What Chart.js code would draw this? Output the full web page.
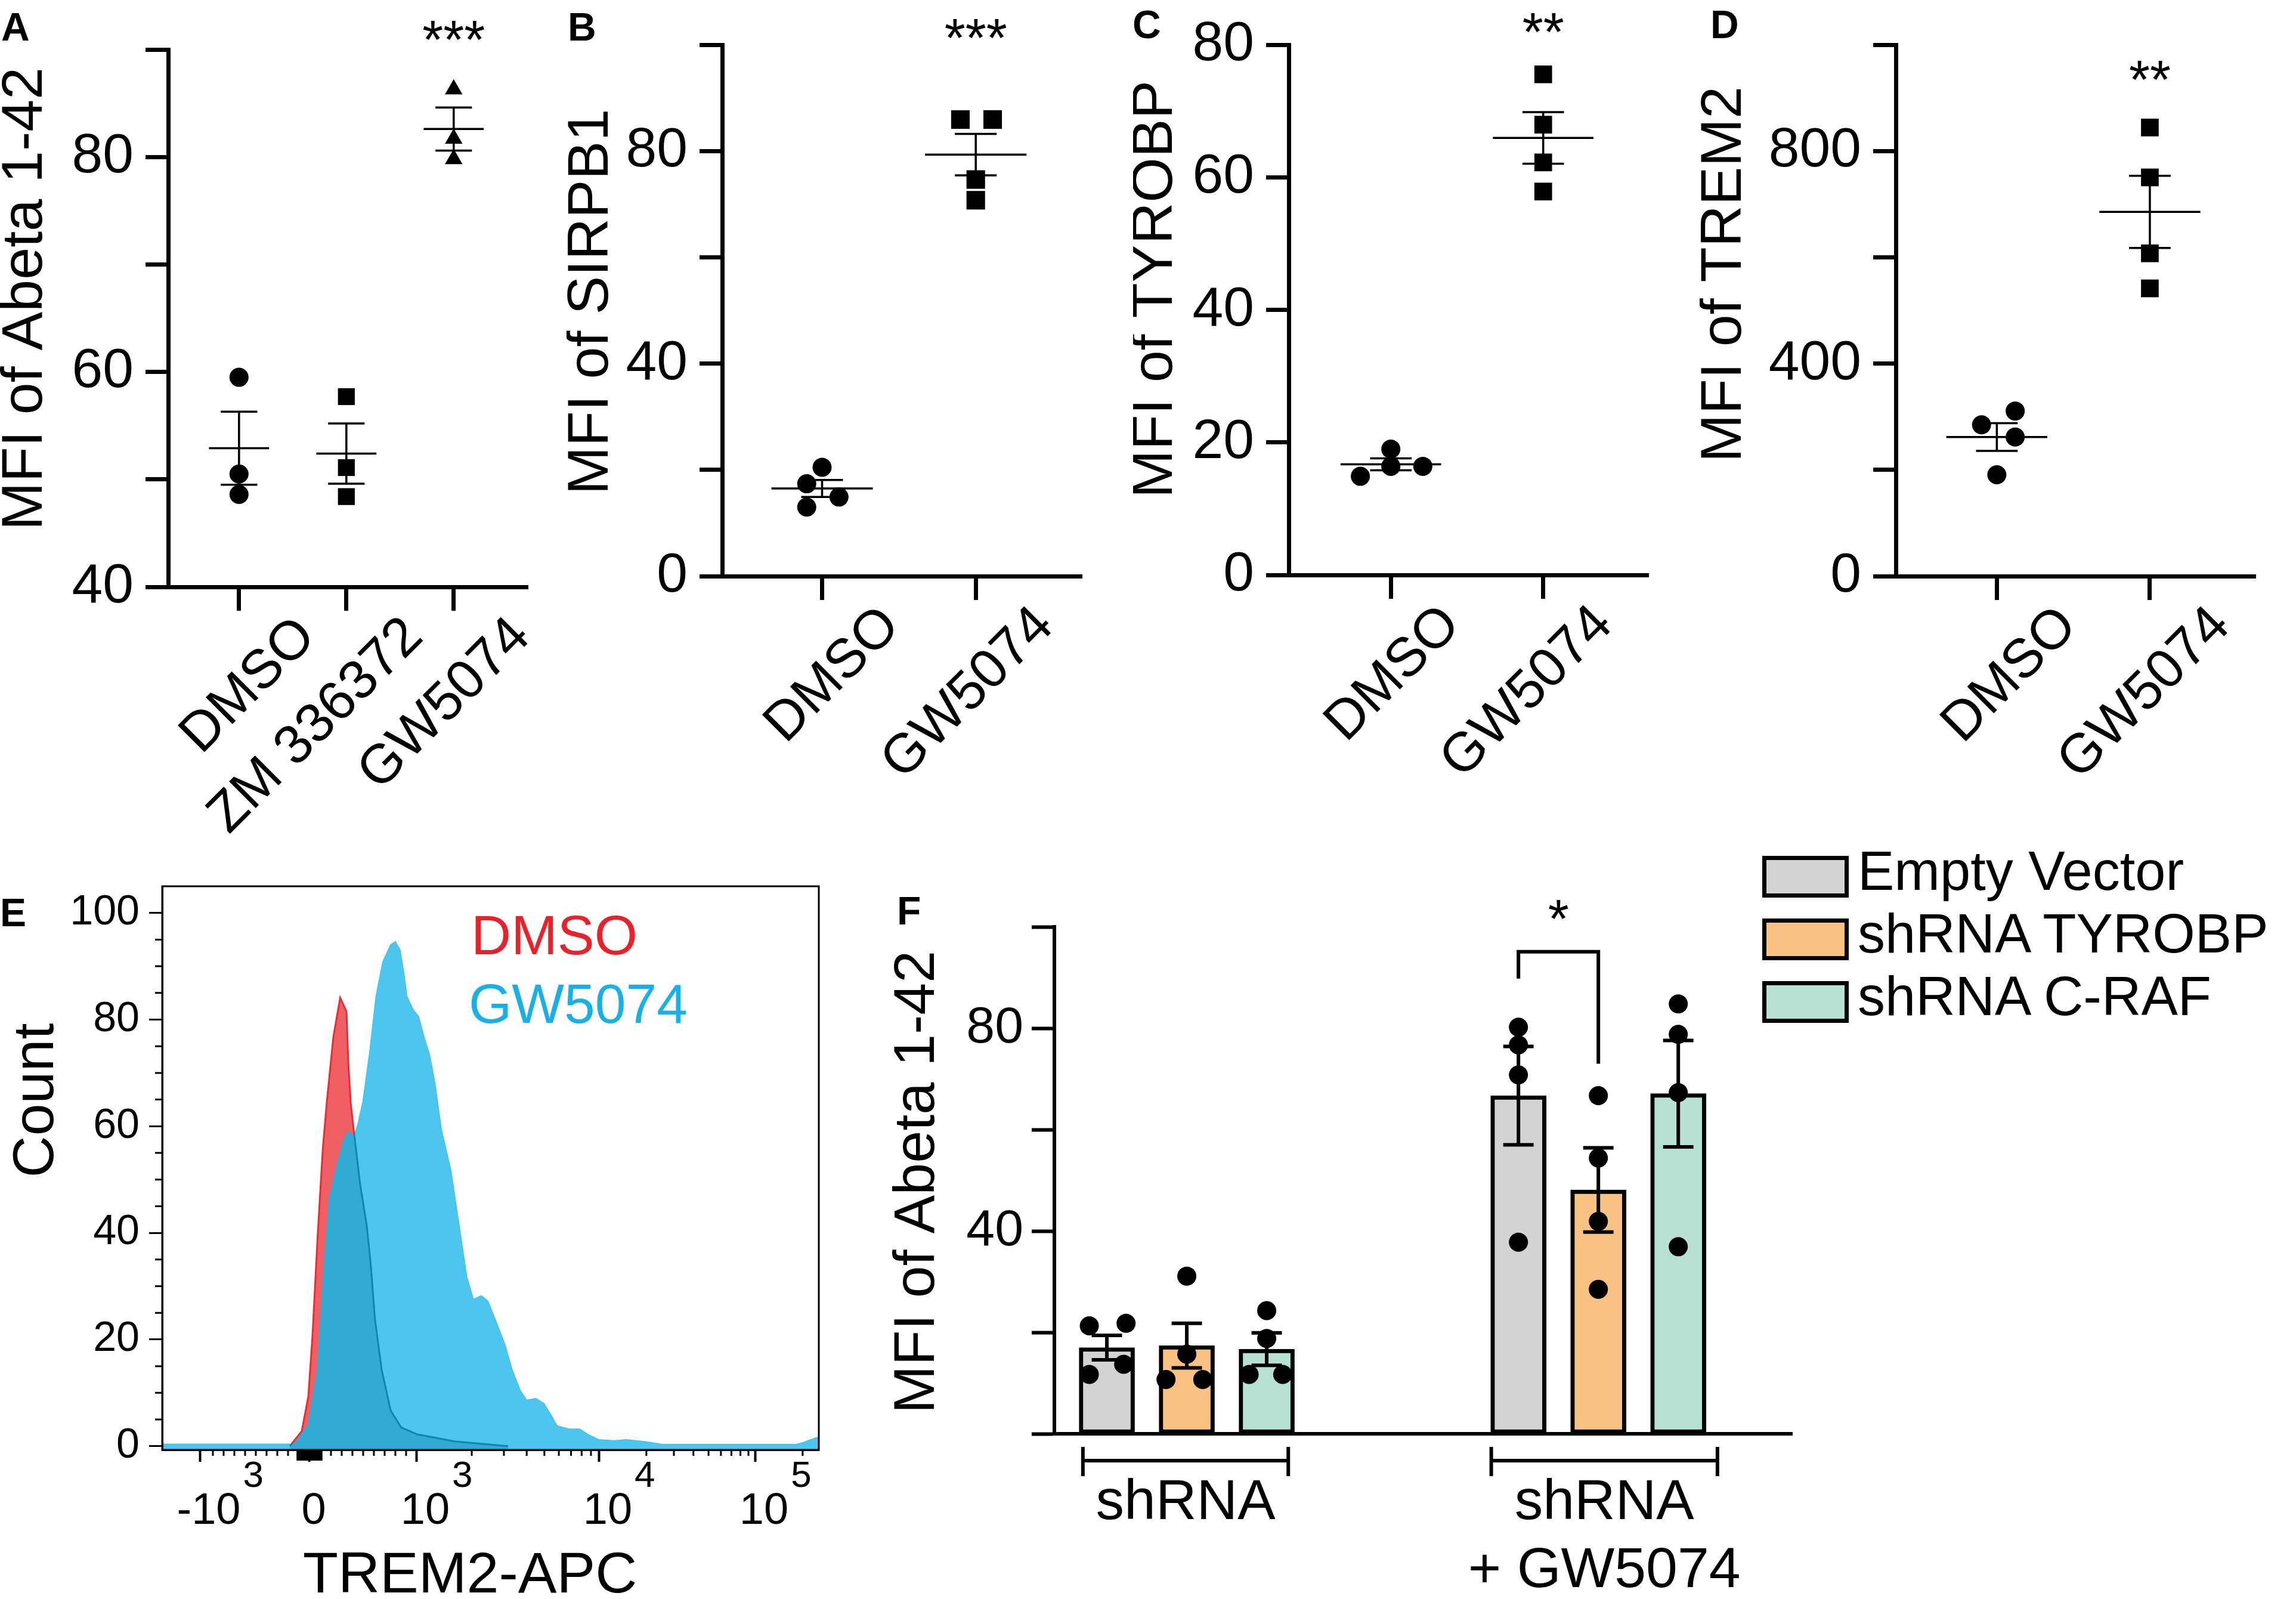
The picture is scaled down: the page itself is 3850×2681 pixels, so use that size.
<!DOCTYPE html>
<html>
<head>
<meta charset="utf-8">
<title>GW5074 / TREM2 figure</title>
<script src="https://cdn.jsdelivr.net/npm/chart.js@4.4.1/dist/chart.umd.min.js"></script>
<style>
  html, body { margin: 0; padding: 0; background: #fff; }
  body { position: relative; width: 3850px; height: 2681px; overflow: hidden;
         font-family: 'Liberation Sans', Arial, Helvetica, sans-serif; }
  canvas { position: absolute; }
  .letter { position: absolute; font-weight: bold; font-size: 66px; line-height: 66px; }
  .legend-row { position: absolute; left: 2955px; width: 900px; height: 70px; }
  .legend-box { position: absolute; left: 0; top: 0; width: 131px; height: 56px; border: 7px solid #000; }
  .legend-text { position: absolute; left: 160px; top: -21px; font-size: 92px; line-height: 92px; white-space: nowrap; }
</style>
</head>
<body>
<canvas id="chartA" width="950" height="1400" style="left:0;top:0"></canvas>
<canvas id="chartB" width="950" height="1400" style="left:950px;top:0"></canvas>
<canvas id="chartC" width="950" height="1400" style="left:1900px;top:0"></canvas>
<canvas id="chartD" width="1000" height="1400" style="left:2850px;top:0"></canvas>
<canvas id="chartE" width="1420" height="1281" style="left:0;top:1400px"></canvas>
<canvas id="chartF" width="1700" height="1331" style="left:1400px;top:1350px"></canvas>
<div class="letter" style="left:2px;top:12px">A</div>
<div class="letter" style="left:952px;top:12px">B</div>
<div class="letter" style="left:1899px;top:8px">C</div>
<div class="letter" style="left:2868px;top:8px">D</div>
<div class="letter" style="left:0px;top:1497px">E</div>
<div class="letter" style="left:1504px;top:1494px">F</div>
<div id="legendF"></div>
<script>
Chart.defaults.font.family = "'Liberation Sans', Arial, Helvetica, sans-serif";
Chart.defaults.color = '#000';

// ---------- Panel A : MFI of Abeta 1-42 ----------
const aCategories = ['DMSO', 'ZM 336372', 'GW5074'];
const aDMSO = [59.5, 50.5, 48.6];
const aZM = [57.7, 51.1, 48.4];
const aGW = [86.3, 81.7, 79.8];
const aMeans = [52.9, 52.4, 82.6];
const aSEMs = [3.4, 2.8, 2.0];
const aTicks = [40, 50, 60, 70, 80, 90];
const aStars = ['', '', '***'];

// ---------- Panel B : MFI of SIRPB1 ----------
const bCategories = ['DMSO', 'GW5074'];
const bDMSO = [20.5, 17.4, 14.9, 13.0];
const bDMSOJitter = [0, -0.1, 0.11, -0.1];
const bGW = [86.0, 86.0, 74.7, 70.8];
const bGWJitter = [-0.1, 0.11, 0, 0];
const bMeans = [16.5, 79.4];
const bSEMs = [1.6, 3.9];
const bTicks = [0, 20, 40, 60, 80, 100];
const bStars = ['', '***'];

// ---------- Panel C : MFI of TYROBP ----------
const cCategories = ['DMSO', 'GW5074'];
const cDMSO = [14.9, 19.0, 16.4, 16.4];
const cDMSOJitter = [-0.2, 0, 0, 0.21];
const cGW = [75.6, 68.0, 62.3, 57.9];
const cMeans = [16.7, 66.0];
const cSEMs = [0.9, 3.9];
const cTicks = [0, 20, 40, 60, 80];
const cStars = ['', '**'];

// ---------- Panel D : MFI of TREM2 ----------
const dCategories = ['DMSO', 'GW5074'];
const dDMSO = [285, 311, 262, 191];
const dDMSOJitter = [-0.1, 0.12, 0.12, 0];
const dGW = [845, 751, 608, 542];
const dMeans = [262, 686];
const dSEMs = [26, 68];
const dTicks = [0, 200, 400, 600, 800, 1000];
const dStars = ['', '**'];

// ---------- Panel E : TREM2-APC histogram (x in display channels) ----------
const eGWChannel = [0, 200, 207, 227.9, 242.4, 252.7, 261, 273.4, 283.7, 290.2,
  298.5, 304.6, 313, 323.3, 333.7, 344.1, 356.2, 363.6, 371, 377.3,
  381.3, 391.5, 399.9, 408.3, 416.6, 425, 435.2, 450.1, 462.2, 474.8,
  485.2, 497.6, 507.8, 522.7, 534.8, 545.4, 558, 568.2, 582.8, 595.2,
  605.4, 615.7, 634.3, 651, 663.7, 680.4, 704.9, 723.5, 754.2, 779.9,
  988.6, 997.9, 1011.8, 1024];
const eGWCount = [0.35, 0.35, 0.5, 4, 14.4, 33.7, 46.5, 53, 57.4, 59,
  58, 60, 64.5, 73.5, 84.4, 90.8, 94, 94.6, 93, 88.3,
  84.4, 81.8, 80.5, 76.7, 73.5, 68.3, 59.4, 51.7, 42, 31.8,
  27.5, 28.2, 27.2, 22.7, 18.9, 14.4, 10.5, 8.6, 8.9, 8,
  6, 3.8, 3.2, 3.2, 2.2, 1.2, 1.0, 1.2, 0.8, 0.3,
  0.3, 0.6, 1.2, 1.7];
const eDMSOChannel = [199, 217.6, 227.9, 234.4, 242.7, 250.6, 256.7, 266.9, 277.6, 287.4,
  290.2, 293.9, 298.5, 308.8, 319, 325.5, 331.6, 342.2, 356.2, 372.9, 398, 456.2, 539.4];
const eDMSOCount = [0, 2.8, 9.3, 20.8, 40, 56, 64.5, 76.7, 84.1, 81.5,
  72, 64.5, 59.4, 49, 41.4, 33.7, 24, 14.4, 6.7, 3.5, 2.2, 0.9, 0];
// decade ticks: -10^3, 0, 10^3, 10^4, 10^5
const eTickChannels = [59.5, 229.7, 397.1, 681.7, 925.4];
const eTickBase = ['-10', '0', '10', '10', '10'];
const eTickExp = ['3', '', '3', '4', '5'];
const eYTicks = [0, 20, 40, 60, 80, 100];

// ---------- Panel F : MFI of Abeta 1-42, shRNA ----------
const fSeries = ['Empty Vector', 'shRNA TYROBP', 'shRNA C-RAF'];
const fGroups = ['shRNA', ['shRNA', '+ GW5074']];
const fColors = ['#d3d3d3', '#f9c182', '#b7e1d3'];
const fMeans = [[17.0, 66.7], [17.4, 48.1], [16.7, 67.1]];
const fSEMs = [[2.4, 9.7], [4.4, 8.3], [3.2, 10.5]];
const fEmptyPts = [[21.3, 21.8, 11.7, 13.7], [80.2, 76.7, 70.8, 37.8]];
const fTyrobpPts = [[31.1, 15.7, 10.7, 10.7], [66.7, 54.4, 41.9, 28.5]];
const fCrafPts = [[24.3, 18.8, 11.7, 11.7], [84.8, 78.8, 67.3, 36.9]];
const fEmptyJitter = [[-0.22, 0.24, -0.22, 0.21], [0, 0, 0, 0]];
const fTyrobpJitter = [[0, 0, -0.26, 0.2], [0, 0, 0, 0]];
const fCrafJitter = [[0, 0, -0.22, 0.2], [0, 0, 0, 0]];
const fYTicks = [0, 20, 40, 60, 80, 100];

// ---------- layout helpers ----------
const FONT = "'Liberation Sans', Arial, Helvetica, sans-serif";
const NARROW = "'Liberation Sans Narrow', 'Arial Narrow', " + FONT;

function textPlugin(items) {
  return {
    id: 'panelText',
    afterDraw(chart) {
      const ctx = chart.ctx;
      items.forEach(t => {
        ctx.save();
        ctx.translate(t.x, t.y);
        if (t.rotate) ctx.rotate(t.rotate * Math.PI / 180);
        ctx.font = (t.size || 97) + 'px ' + FONT;
        ctx.fillStyle = t.color || '#000';
        ctx.textAlign = t.align || 'center';
        ctx.textBaseline = t.baseline || 'middle';
        ctx.fillText(t.text, 0, 0);
        ctx.restore();
      });
    }
  };
}

// mean line + SEM whiskers, positioned through the chart scales
function meanSemPlugin(xs, means, sems, meanHalf, capHalf, lw) {
  return {
    id: 'meanSem',
    afterDatasetsDraw(chart) {
      const { ctx, scales: { x, y } } = chart;
      ctx.save();
      ctx.strokeStyle = '#000';
      ctx.lineWidth = lw;
      means.forEach((m, i) => {
        const cx = x.getPixelForValue(xs[i]);
        const half = x.getPixelForValue(xs[i] + meanHalf) - cx;
        const cap = x.getPixelForValue(xs[i] + capHalf) - cx;
        const ym = y.getPixelForValue(m);
        const yh = y.getPixelForValue(m + sems[i]);
        const yl = y.getPixelForValue(m - sems[i]);
        ctx.beginPath();
        if (meanHalf > 0) { ctx.moveTo(cx - half, ym); ctx.lineTo(cx + half, ym); }
        ctx.moveTo(cx, yh); ctx.lineTo(cx, yl);
        ctx.moveTo(cx - cap, yh); ctx.lineTo(cx + cap, yh);
        ctx.moveTo(cx - cap, yl); ctx.lineTo(cx + cap, yl);
        ctx.stroke();
      });
      ctx.restore();
    }
  };
}

function starsPlugin(stars, starY, size) {
  return {
    id: 'stars',
    afterDraw(chart) {
      const { ctx, scales: { x, y } } = chart;
      ctx.save();
      ctx.font = size + 'px ' + FONT;
      ctx.textAlign = 'center';
      ctx.textBaseline = 'middle';
      ctx.fillStyle = '#000';
      stars.forEach((s, i) => {
        if (s) ctx.fillText(s, x.getPixelForValue(i + 1), y.getPixelForValue(starY) + 0.23 * size);
      });
      ctx.restore();
    }
  };
}

function valueAxis(ticks, labelFn, width, tickLen, pad, fontSize, lw) {
  return {
    type: 'linear',
    min: ticks[0],
    max: ticks[ticks.length - 1],
    afterBuildTicks: s => { s.ticks = ticks.map(v => ({ value: v })); },
    afterFit: s => { s.width = width; },
    ticks: { callback: v => labelFn(v), font: { size: fontSize }, padding: pad, color: '#000' },
    grid: { drawOnChartArea: false, drawTicks: true, tickLength: tickLen, tickWidth: lw, tickColor: '#000' },
    border: { display: true, width: lw, color: '#000' }
  };
}

function categoryAxis(labels, min, max, height, labelOffset) {
  return {
    type: 'linear',
    min: min,
    max: max,
    offset: false,
    afterBuildTicks: s => { s.ticks = labels.map((_, i) => ({ value: i + 1 })); },
    afterFit: s => { s.height = height; },
    ticks: {
      callback: (v, i) => labels[i],
      font: { size: 92 }, color: '#000',
      minRotation: 45, maxRotation: 45, autoSkip: false,
      padding: -10, labelOffset: labelOffset
    },
    grid: { drawOnChartArea: false, drawTicks: true, tickLength: 40, tickWidth: 7, tickColor: '#000' },
    border: { display: true, width: 7, color: '#000' }
  };
}

function scatterPanel(id, p) {
  const datasets = p.groups.map((g, i) => ({
    data: g.values.map((v, j) => ({ x: i + 1 + (g.jitter ? g.jitter[j] : 0), y: v })),
    pointStyle: g.style,
    pointRadius: g.radius,
    pointHoverRadius: g.radius,
    backgroundColor: '#000',
    borderColor: '#000',
    borderWidth: 0,
    clip: false
  }));
  const xs = p.categories.map((_, i) => i + 1);
  return new Chart(document.getElementById(id), {
    type: 'scatter',
    data: { datasets },
    options: {
      responsive: false,
      animation: false,
      devicePixelRatio: 1,
      layout: { padding: { top: p.top, right: p.right, left: 0, bottom: 0 } },
      plugins: { legend: { display: false }, tooltip: { enabled: false } },
      scales: {
        x: categoryAxis(p.categories, p.xMin, p.xMax, p.xHeight, p.labelOffset),
        y: valueAxis(p.yTicks, v => (v % p.labelEvery === 0 ? String(v) : ''), p.yWidth, 38, 20, 93, 7)
      }
    },
    plugins: [
      meanSemPlugin(xs, p.means, p.sems, p.meanHalf, p.capHalf, 3.5),
      starsPlugin(p.stars, p.starY, 90),
      textPlugin([{ text: p.title, x: p.titleX, y: p.titleY, rotate: -90, size: 97 }])
    ]
  });
}

// ---------- A–D ----------
scatterPanel('chartA', {
  categories: aCategories,
  groups: [
    { values: aDMSO, style: 'circle', radius: 16 },
    { values: aZM, style: 'rect', radius: 20 },
    { values: aGW, style: 'triangle', radius: 17 }
  ],
  means: aMeans, sems: aSEMs, stars: aStars, starY: 91.7,
  yTicks: aTicks, labelEvery: 20,
  xMin: 0.34, xMax: 3.69, top: 83, right: 65, yWidth: 282, xHeight: 416,
  meanHalf: 0.28, capHalf: 0.17, labelOffset: 114,
  title: 'MFI of Abeta 1-42', titleX: 43, titleY: 501
});

scatterPanel('chartB', {
  categories: bCategories,
  groups: [
    { values: bDMSO, jitter: bDMSOJitter, style: 'circle', radius: 16 },
    { values: bGW, jitter: bGWJitter, style: 'rect', radius: 22 }
  ],
  means: bMeans, sems: bSEMs, stars: bStars, starY: 103,
  yTicks: bTicks, labelEvery: 40,
  xMin: 0.35, xMax: 2.69, top: 70, right: 86, yWidth: 261, xHeight: 434,
  meanHalf: 0.33, capHalf: 0.136, labelOffset: 116,
  title: 'MFI of SIRPB1', titleX: 42, titleY: 506
});

scatterPanel('chartC', {
  categories: cCategories,
  groups: [
    { values: cDMSO, jitter: cDMSOJitter, style: 'circle', radius: 16 },
    { values: cGW, style: 'rect', radius: 21 }
  ],
  means: cMeans, sems: cSEMs, stars: cStars, starY: 83.3,
  yTicks: cTicks, labelEvery: 20,
  xMin: 0.33, xMax: 2.69, top: 65, right: 86, yWidth: 261, xHeight: 436,
  meanHalf: 0.33, capHalf: 0.136, labelOffset: 102,
  title: 'MFI of TYROBP', titleX: 38, titleY: 485
});

scatterPanel('chartD', {
  categories: dCategories,
  groups: [
    { values: dDMSO, jitter: dDMSOJitter, style: 'circle', radius: 16 },
    { values: dGW, style: 'rect', radius: 21 }
  ],
  means: dMeans, sems: dSEMs, stars: dStars, starY: 951,
  yTicks: dTicks, labelEvery: 400,
  xMin: 0.34, xMax: 2.69, top: 65, right: 68, yWidth: 329, xHeight: 434,
  meanHalf: 0.33, capHalf: 0.136, labelOffset: 120,
  title: 'MFI of TREM2', titleX: 42, titleY: 460
});

// ---------- E ----------
// red histogram is drawn first; the blue one is laid over it in 'color' blend
// so that the overlap turns dark blue as in the flow cytometry export
const blendPlugin = {
  id: 'histBlend',
  afterDatasetDraw(chart, args) {
    if (args.index === 1) chart.ctx.globalCompositeOperation = 'color';
    if (args.index === 0) chart.ctx.globalCompositeOperation = 'source-over';
  }
};

function decadeMinors() {
  const out = [];
  const lin = (eTickChannels[2] - eTickChannels[1]) / 10;
  for (let k = 1; k <= 9; k++) {
    out.push({ c: eTickChannels[1] + k * lin, len: 10 });
    out.push({ c: eTickChannels[1] - k * lin, len: 10 });
    out.push({ c: eTickChannels[1] + k * lin / 8, len: 18 });
    out.push({ c: eTickChannels[1] - k * lin / 8, len: 18 });
  }
  const decades = [[eTickChannels[2], eTickChannels[3]], [eTickChannels[3], eTickChannels[4]],
    [eTickChannels[4], eTickChannels[4] + (eTickChannels[4] - eTickChannels[3])]];
  decades.forEach(([a, b]) => {
    for (let m = 2; m <= 9; m++) {
      const c = a + Math.log10(m) * (b - a);
      if (c <= 1024) out.push({ c: c, len: 10 });
    }
  });
  return out;
}

const eAxisPlugin = {
  id: 'eAxis',
  afterDraw(chart) {
    const { ctx, chartArea: area, scales: { x, y } } = chart;
    ctx.save();
    ctx.strokeStyle = '#000';
    ctx.lineWidth = 3;
    ctx.strokeRect(area.left, area.top, area.right - area.left, area.bottom - area.top);
    ctx.beginPath();
    decadeMinors().forEach(t => {
      const px = x.getPixelForValue(t.c);
      ctx.moveTo(px, area.bottom);
      ctx.lineTo(px, area.bottom + t.len);
    });
    for (let v = 5; v < 105; v += 5) {
      if (v % 20 === 0) continue;
      const py = y.getPixelForValue(v);
      ctx.moveTo(area.left - 12, py);
      ctx.lineTo(area.left, py);
    }
    ctx.stroke();
    ctx.fillStyle = '#000';
    ctx.textBaseline = 'alphabetic';
    eTickChannels.forEach((c, i) => {
      const px = x.getPixelForValue(c);
      ctx.font = '74px ' + NARROW;
      ctx.textAlign = 'center';
      if (!eTickExp[i]) {
        ctx.fillText(eTickBase[i], px + 7, area.bottom + 124);
        return;
      }
      const cx = px + 14;
      const w = ctx.measureText(eTickBase[i]).width;
      ctx.fillText(eTickBase[i], cx, area.bottom + 124);
      ctx.font = '62px ' + NARROW;
      ctx.textAlign = 'left';
      ctx.fillText(eTickExp[i], cx + w / 2 + 4, area.bottom + 62);
    });
    ctx.restore();
  }
};

new Chart(document.getElementById('chartE'), {
  type: 'line',
  data: {
    datasets: [
      {
        label: 'GW5074',
        data: eGWChannel.map((c, i) => ({ x: c, y: eGWCount[i] })),
        borderColor: '#3cbce9', borderWidth: 2,
        backgroundColor: '#4cc6ef', fill: 'start',
        pointRadius: 0, tension: 0, order: 1
      },
      {
        label: 'DMSO',
        data: eDMSOChannel.map((c, i) => ({ x: c, y: eDMSOCount[i] })),
        borderColor: '#e2303a', borderWidth: 3,
        backgroundColor: '#ef5f63', fill: 'start',
        pointRadius: 0, tension: 0, order: 2
      }
    ]
  },
  options: {
    responsive: false,
    animation: false,
    devicePixelRatio: 1,
    layout: { padding: { top: 86, right: 47, left: 0, bottom: 0 } },
    plugins: { legend: { display: false }, tooltip: { enabled: false } },
    scales: {
      x: {
        type: 'linear', min: 0, max: 1024,
        afterBuildTicks: s => { s.ticks = eTickChannels.map(v => ({ value: v })); },
        afterFit: s => { s.height = 250; },
        ticks: { display: false },
        grid: { drawOnChartArea: false, tickLength: 20, tickWidth: 4, tickColor: '#000' },
        border: { width: 3, color: '#000' }
      },
      y: {
        type: 'linear', min: -0.7, max: 105,
        afterBuildTicks: s => { s.ticks = eYTicks.map(v => ({ value: v })); },
        afterFit: s => { s.width = 272; },
        ticks: { font: { size: 70 }, padding: 16, color: '#000' },
        grid: { drawOnChartArea: false, tickLength: 22, tickWidth: 3, tickColor: '#000' },
        border: { width: 3, color: '#000' }
      }
    }
  },
  plugins: [blendPlugin, eAxisPlugin, textPlugin([
    { text: 'Count', x: 62, y: 445, rotate: -90, size: 97 },
    { text: 'TREM2-APC', x: 788, y: 1270, size: 97, baseline: 'alphabetic' },
    { text: 'DMSO', x: 790, y: 200, size: 93, align: 'left', baseline: 'alphabetic', color: '#e8222b' },
    { text: 'GW5074', x: 786, y: 315, size: 93, align: 'left', baseline: 'alphabetic', color: '#1aafe6' }
  ])]
});

// ---------- F ----------
const fSlots = [[1, 6.15], [2, 7.15], [3, 8.15]];
const fGroupCenters = [1.985, 7.225];
const fBrackets = [[0.7, 3.27], [5.81, 8.64]];
const fPts = [fEmptyPts, fTyrobpPts, fCrafPts];
const fJit = [fEmptyJitter, fTyrobpJitter, fCrafJitter];

const fBarSets = fSeries.map((name, s) => ({
  type: 'bar',
  label: name,
  data: fMeans[s].map((m, g) => ({ x: fSlots[s][g], y: m })),
  backgroundColor: fColors[s],
  borderColor: '#000',
  borderWidth: 7,
  borderSkipped: false,
  barThickness: 93,
  grouped: false,
  order: 3
}));
const fPointSets = fSeries.map((name, s) => ({
  type: 'scatter',
  label: name + ' points',
  data: fPts[s].flatMap((vals, g) => vals.map((v, j) => ({ x: fSlots[s][g] + fJit[s][g][j], y: v }))),
  pointRadius: 16,
  pointHoverRadius: 16,
  backgroundColor: '#000',
  borderWidth: 0,
  clip: false,
  order: 1
}));

const fDecorPlugin = {
  id: 'fDecor',
  afterDatasetsDraw(chart) {
    const { ctx, scales: { x, y } } = chart;
    ctx.save();
    ctx.strokeStyle = '#000';
    ctx.lineWidth = 6;
    // SEM whiskers on the bars
    fSeries.forEach((_, s) => {
      fMeans[s].forEach((m, g) => {
        const cx = x.getPixelForValue(fSlots[s][g]);
        const cap = x.getPixelForValue(fSlots[s][g] + 0.19) - cx;
        const yh = y.getPixelForValue(m + fSEMs[s][g]);
        const yl = y.getPixelForValue(m - fSEMs[s][g]);
        ctx.beginPath();
        ctx.moveTo(cx, yh); ctx.lineTo(cx, yl);
        ctx.moveTo(cx - cap, yh); ctx.lineTo(cx + cap, yh);
        ctx.moveTo(cx - cap, yl); ctx.lineTo(cx + cap, yl);
        ctx.stroke();
      });
    });
    ctx.restore();
  },
  afterDraw(chart) {
    const { ctx, scales: { x, y } } = chart;
    const base = y.getPixelForValue(0);
    ctx.save();
    ctx.strokeStyle = '#000';
    ctx.lineWidth = 6;
    ctx.beginPath();
    fBrackets.forEach(([a, b]) => {
      const xa = x.getPixelForValue(a), xb = x.getPixelForValue(b);
      ctx.moveTo(xa, base + 45); ctx.lineTo(xb, base + 45);
      ctx.moveTo(xa, base + 22); ctx.lineTo(xa, base + 71);
      ctx.moveTo(xb, base + 22); ctx.lineTo(xb, base + 71);
    });
    // significance bracket Empty Vector vs shRNA TYROBP (+ GW5074)
    const xl = x.getPixelForValue(fSlots[0][1]), xr = x.getPixelForValue(fSlots[1][1]);
    ctx.moveTo(xl, y.getPixelForValue(89.8));
    ctx.lineTo(xl, y.getPixelForValue(95.1));
    ctx.lineTo(xr, y.getPixelForValue(95.1));
    ctx.lineTo(xr, y.getPixelForValue(73.0));
    ctx.stroke();
    ctx.font = '90px ' + FONT;
    ctx.textAlign = 'center';
    ctx.textBaseline = 'middle';
    ctx.fillStyle = '#000';
    ctx.fillText('*', (xl + xr) / 2, y.getPixelForValue(103.2) + 0.23 * 90);
    ctx.restore();
  }
};

new Chart(document.getElementById('chartF'), {
  type: 'bar',
  data: { datasets: [...fBarSets, ...fPointSets] },
  options: {
    responsive: false,
    animation: false,
    devicePixelRatio: 1,
    layout: { padding: { top: 204, right: 95, left: 0, bottom: 0 } },
    plugins: { legend: { display: false }, tooltip: { enabled: false } },
    scales: {
      x: {
        type: 'linear', min: 0.343, max: 9.574,
        offset: false,
        afterBuildTicks: s => { s.ticks = fGroupCenters.map(v => ({ value: v })); },
        afterFit: s => { s.height = 277; },
        ticks: { callback: (v, i) => fGroups[i], font: { size: 95 }, padding: 52, maxRotation: 0, minRotation: 0, autoSkip: false, color: '#000' },
        grid: { display: false, offset: false },
        border: { display: true, width: 6, color: '#000' }
      },
      y: valueAxis(fYTicks, v => (v > 0 && v % 40 === 0 ? String(v) : ''), 368, 38, 14, 86, 6)
    }
  },
  plugins: [fDecorPlugin, textPlugin([
    { text: 'MFI of Abeta 1-42', x: 139, y: 632, rotate: -90, size: 97 }
  ])]
});

// legend for F
const legendF = document.getElementById('legendF');
fSeries.forEach((name, i) => {
  const row = document.createElement('div');
  row.className = 'legend-row';
  row.style.top = (1435 + i * 105) + 'px';
  const box = document.createElement('div');
  box.className = 'legend-box';
  box.style.background = fColors[i];
  const label = document.createElement('div');
  label.className = 'legend-text';
  label.textContent = name;
  row.appendChild(box);
  row.appendChild(label);
  legendF.appendChild(row);
});
</script>
</body>
</html>
